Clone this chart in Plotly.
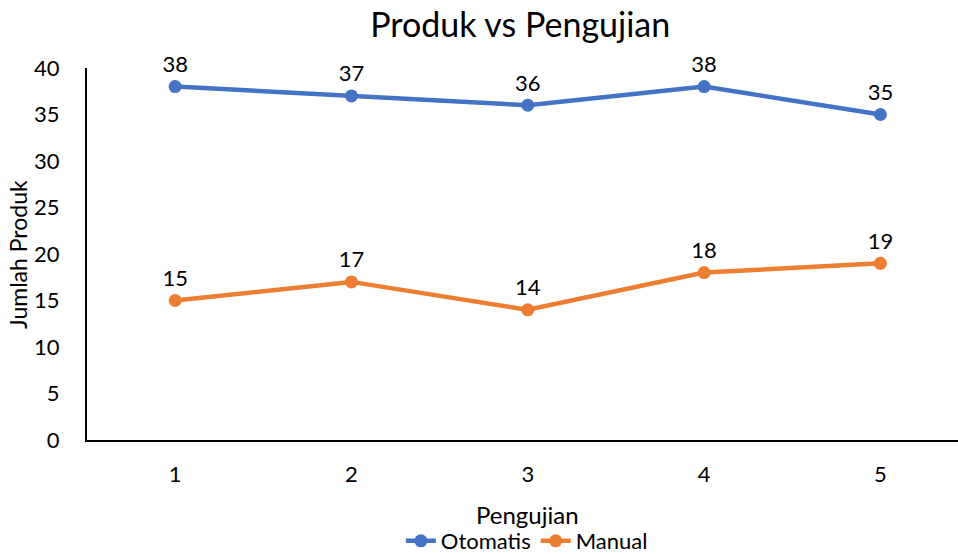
import plotly.graph_objects as go

pengujian = [1, 2, 3, 4, 5]
otomatis = [38, 37, 36, 38, 35]
manual = [15, 17, 14, 18, 19]

FONT = "Lato"
BLUE = "#4472C4"
ORANGE = "#ED7D31"

fig = go.Figure()
fig.add_trace(go.Scatter(
    x=pengujian, y=otomatis, name="Otomatis", mode="lines+markers+text",
    line=dict(color=BLUE, width=4.5), marker=dict(size=13, color=BLUE),
    text=[str(v) for v in otomatis], textposition="top center",
    textfont=dict(size=22, color="#000000", family=FONT), cliponaxis=False,
))
fig.add_trace(go.Scatter(
    x=pengujian, y=manual, name="Manual", mode="lines+markers+text",
    line=dict(color=ORANGE, width=4.5), marker=dict(size=13, color=ORANGE),
    text=[str(v) for v in manual], textposition="top center",
    textfont=dict(size=22, color="#000000", family=FONT), cliponaxis=False,
))

fig.update_layout(
    width=958, height=554,
    margin=dict(l=87, r=0, t=68, b=114),
    paper_bgcolor="white", plot_bgcolor="white",
    font=dict(family=FONT, size=22, color="#000000"),
    title=dict(text="Produk vs Pengujian", x=0.543, xanchor="center",
               y=1 - 25 / 554, yanchor="middle", yref="container",
               font=dict(size=34, family=FONT, color="#000000")),
    xaxis=dict(range=[0.5, 5.44], tickvals=pengujian, ticktext=[str(v) for v in pengujian],
               showgrid=False, zeroline=False, showline=True, linecolor="#000000",
               linewidth=2, ticks="", tickfont=dict(size=22), ticklabelstandoff=14),
    yaxis=dict(range=[0, 40], dtick=5, showgrid=False, zeroline=False, showline=True,
               linecolor="#000000", linewidth=2, ticks="", tickfont=dict(size=22),
               ticklabelstandoff=21),
    legend=dict(orientation="h", x=0.505, xanchor="center",
                y=(554 - 541) / 554, yanchor="middle", yref="container",
                font=dict(size=22), tracegroupgap=0,
                bgcolor="rgba(0,0,0,0)"),
    showlegend=True,
    annotations=[
        dict(text="Pengujian", x=(527 - 87) / 871, y=(440 - 514) / 372, xref="paper", yref="paper",
             showarrow=False, xanchor="center", yanchor="middle", font=dict(size=24)),
        dict(text="Jumlah Produk", x=(18 - 87) / 871, y=(440 - 255) / 372, xref="paper", yref="paper",
             showarrow=False, textangle=-90, xanchor="center", yanchor="middle",
             font=dict(size=23)),
    ],
)

fig.write_html("out.html")
